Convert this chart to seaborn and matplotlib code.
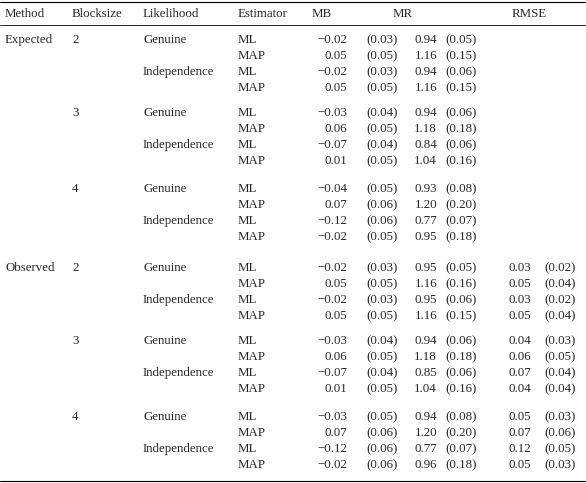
import matplotlib
matplotlib.use("Agg")
import matplotlib.pyplot as plt
import seaborn as sns

sns.set_theme(style="white")
plt.rcParams['font.family'] = ['Liberation Serif', 'DejaVu Serif']

methods = ["Expected", "Observed"]
blocksizes = ["2", "3", "4"]
likelihoods = ["Genuine", "Independence"]
estimators = ["ML", "MAP"]
headers = ["Method", "Blocksize", "Likelihood", "Estimator", "MB", "MR", "RMSE"]

mb = [-0.02, 0.05, -0.02, 0.05, -0.03, 0.06, -0.07, 0.01, -0.04, 0.07, -0.12, -0.02,
      -0.02, 0.05, -0.02, 0.05, -0.03, 0.06, -0.07, 0.01, -0.03, 0.07, -0.12, -0.02]
mb_sd = [0.03, 0.05, 0.03, 0.05, 0.04, 0.05, 0.04, 0.05, 0.05, 0.06, 0.06, 0.05,
         0.03, 0.05, 0.03, 0.05, 0.04, 0.05, 0.04, 0.05, 0.05, 0.06, 0.06, 0.06]
mr = [0.94, 1.16, 0.94, 1.16, 0.94, 1.18, 0.84, 1.04, 0.93, 1.20, 0.77, 0.95,
      0.95, 1.16, 0.95, 1.16, 0.94, 1.18, 0.85, 1.04, 0.94, 1.20, 0.77, 0.96]
mr_sd = [0.05, 0.15, 0.06, 0.15, 0.06, 0.18, 0.06, 0.16, 0.08, 0.20, 0.07, 0.18,
         0.05, 0.16, 0.06, 0.15, 0.06, 0.18, 0.06, 0.16, 0.08, 0.20, 0.07, 0.18]
rmse = [None]*12 + [0.03, 0.05, 0.03, 0.05, 0.04, 0.06, 0.07, 0.04, 0.05, 0.07, 0.12, 0.05]
rmse_sd = [None]*12 + [0.02, 0.04, 0.02, 0.04, 0.03, 0.05, 0.04, 0.04, 0.03, 0.06, 0.05, 0.03]

fig = plt.figure(figsize=(5.86, 4.83), dpi=100)
ax = fig.add_axes([0, 0, 1, 1])
ax.set_xlim(0, 586); ax.set_ylim(483, 0); ax.axis("off")
fs = 9.3

def fmt(v):
    s = f"{v:.2f}"
    return s.replace("-", "\u2212")

ax.plot([0, 586], [2, 2], color="black", lw=0.8)
ax.plot([0, 586], [25, 25], color="black", lw=0.6)
ax.plot([0, 586], [481, 481], color="black", lw=0.8)

hx = [5, 72, 143, 238, 312, 393, 512]
for x, h in zip(hx, headers):
    ax.text(x, 14, h, fontsize=fs, va="center", ha="left")

group_starts = [40, 113, 189, 268, 341, 417]
i = 0
for m, method in enumerate(methods):
    for b, bs in enumerate(blocksizes):
        y0 = group_starts[m*3 + b]
        if b == 0:
            ax.text(5, y0, method, fontsize=fs, va="center")
        ax.text(72, y0, bs, fontsize=fs, va="center")
        for l, lik in enumerate(likelihoods):
            ax.text(143, y0 + l*32, lik, fontsize=fs, va="center")
            for e, est in enumerate(estimators):
                y = y0 + l*32 + e*16
                ax.text(238, y, est, fontsize=fs, va="center")
                ax.text(347, y, fmt(mb[i]), fontsize=fs, va="center", ha="right")
                ax.text(398, y, f"({mb_sd[i]:.2f})", fontsize=fs, va="center", ha="right")
                ax.text(437, y, fmt(mr[i]), fontsize=fs, va="center", ha="right")
                ax.text(477, y, f"({mr_sd[i]:.2f})", fontsize=fs, va="center", ha="right")
                if rmse[i] is not None:
                    ax.text(531, y, fmt(rmse[i]), fontsize=fs, va="center", ha="right")
                    ax.text(576, y, f"({rmse_sd[i]:.2f})", fontsize=fs, va="center", ha="right")
                i += 1

fig.savefig("out.png", dpi=100)
